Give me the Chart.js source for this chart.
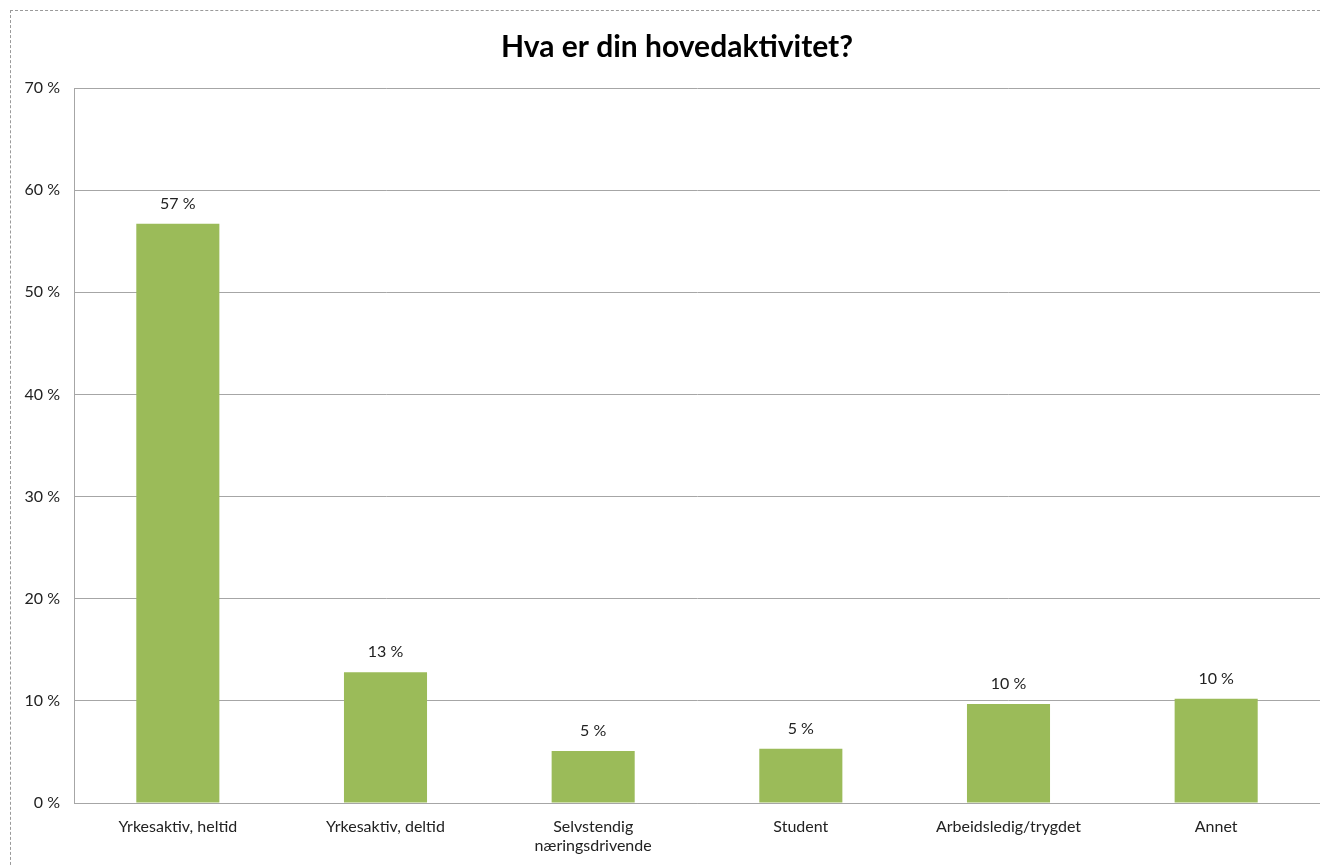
<!DOCTYPE html>
<html>
<head>
<meta charset="utf-8">
<script src="https://cdn.jsdelivr.net/npm/chart.js@4.4.1/dist/chart.umd.min.js"></script>
<style>
  html, body { margin: 0; padding: 0; background: #fff; }
  #wrap { position: relative; width: 1320px; height: 865px; overflow: hidden; }
  #frame { position: absolute; left: 10px; top: 10px; width: 1330px; height: 880px; border: 1px dashed #9a9a9a; box-sizing: border-box; pointer-events: none; }
  canvas { position: absolute; left: 0; top: 0; }
</style>
</head>
<body>
<div id="wrap">
  <canvas id="c" width="1320" height="865"></canvas>
  <div id="frame"></div>
</div>
<script>
const chartTitle = 'Hva er din hovedaktivitet?';
const categories = ["Yrkesaktiv, heltid", "Yrkesaktiv, deltid", ["Selvstendig", "næringsdrivende"], "Student", "Arbeidsledig/trygdet", "Annet"];
const values = [56.7, 12.8, 5.1, 5.3, 9.7, 10.2];
const valueLabels = ["57 %", "13 %", "5 %", "5 %", "10 %", "10 %"];
const yTicks = [0, 10, 20, 30, 40, 50, 60, 70];

const FONT = "Lato, 'Open Sans', sans-serif";

const barLabels = {
  id: 'barLabels',
  afterDatasetsDraw(chart) {
    const ctx = chart.ctx;
    const meta = chart.getDatasetMeta(0);
    ctx.save();
    ctx.font = "16px " + FONT;
    ctx.fillStyle = "#222";
    ctx.textAlign = "center";
    ctx.textBaseline = "middle";
    meta.data.forEach((bar, i) => {
      ctx.fillText(valueLabels[i], bar.x, bar.y - 20);
    });
    ctx.restore();
  }
};

const titleDraw = {
  id: 'titleDraw',
  afterDraw(chart) {
    const ctx = chart.ctx;
    ctx.save();
    ctx.font = "bold 30px " + FONT;
    ctx.fillStyle = "#000";
    ctx.textAlign = "center";
    ctx.textBaseline = "middle";
    ctx.fillText(chartTitle, 677, 47);
    ctx.restore();
  }
};

new Chart(document.getElementById('c'), {
  type: 'bar',
  data: {
    labels: categories,
    datasets: [{
      data: values,
      backgroundColor: '#9BBB59',
      borderWidth: 0,
      barPercentage: 0.4,
      categoryPercentage: 1.0
    }]
  },
  options: {
    responsive: false,
    animation: false,
    layout: { padding: { top: 88, left: 0, right: 0, bottom: 0 } },
    plugins: {
      legend: { display: false },
      tooltip: { enabled: false },
      title: { display: false }
    },
    scales: {
      x: {
        grid: { display: false, drawTicks: false },
        border: { display: true, color: '#a6a6a6', width: 1 },
        ticks: { color: '#222', font: { family: FONT, size: 16 }, padding: 14, maxRotation: 0, autoSkip: false },
        afterFit(scale) { scale.height = 62; }
      },
      y: {
        min: 0, max: 70,
        afterBuildTicks(scale) { scale.ticks = yTicks.map(v => ({ value: v })); },
        grid: { color: '#a6a6a6', drawTicks: false },
        border: { display: true, color: '#a6a6a6', width: 1 },
        ticks: { color: '#222', font: { family: FONT, size: 16 }, padding: 14, callback: v => v + ' %' },
        afterFit(scale) { scale.width = 74; }
      }
    }
  },
  plugins: [barLabels, titleDraw]
});
</script>
</body>
</html>
